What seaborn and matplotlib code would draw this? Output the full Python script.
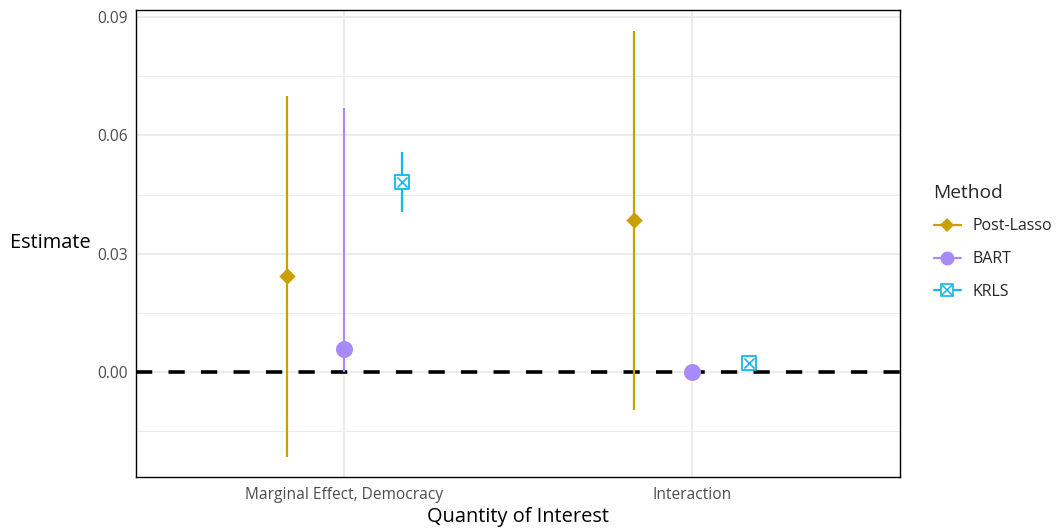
import numpy as np
import pandas as pd
import matplotlib
matplotlib.use("Agg")
import matplotlib.pyplot as plt
from matplotlib.lines import Line2D
import seaborn as sns

# Estimates with interval bounds per quantity and method
quantities = ["Marginal Effect, Democracy", "Interaction"]
methods = ["Post-Lasso", "BART", "KRLS"]
estimate = [0.0244, 0.0058, 0.0482, 0.0385, 0.0000, 0.0023]
lower = [-0.0216, 0.0000, 0.0406, -0.0096, 0.0000, 0.0017]
upper = [0.0700, 0.0670, 0.0558, 0.0865, 0.0000, 0.0029]
yticks = [0.00, 0.03, 0.06, 0.09]

colors = {"Post-Lasso": "#C9A000", "BART": "#A88BFA", "KRLS": "#12B8E8"}

df = pd.DataFrame({
    "quantity": np.repeat(quantities, len(methods)),
    "method": methods * len(quantities),
    "estimate": estimate,
    "lower": lower,
    "upper": upper,
})
dodge = 0.166
df["xpos"] = df["quantity"].map({q: i for i, q in enumerate(quantities)}) + \
    df["method"].map({m: (j - 1) * dodge for j, m in enumerate(methods)})

sns.set_theme(style="whitegrid")
plt.rcParams["font.family"] = ["Open Sans", "DejaVu Sans"]

fig = plt.figure(figsize=(10.59, 5.29), dpi=100)
ax = fig.add_axes([0.1284, 0.0983, 0.7215, 0.8827])

# zero reference line
ax.axhline(0, color="black", lw=2.6, ls=(0, (4.5, 4.5)), zorder=2)

for m in methods:
    sub = df[df["method"] == m]
    ax.vlines(sub["xpos"], sub["lower"], sub["upper"], color=colors[m], lw=1.6, zorder=3)

marker_map = {"Post-Lasso": "D", "BART": "o", "KRLS": "s"}
size_map = {"Post-Lasso": 70, "BART": 150, "KRLS": 95}
for m in methods:
    sub = df[df["method"] == m]
    if m == "KRLS":
        sns.scatterplot(data=sub, x="xpos", y="estimate", ax=ax, marker="s",
                        s=size_map[m], facecolor="white", edgecolor=colors[m],
                        linewidth=1.3, zorder=4, legend=False)
        sns.scatterplot(data=sub, x="xpos", y="estimate", ax=ax, marker="x",
                        s=size_map[m] * 0.55, color=colors[m],
                        linewidth=1.2, zorder=5, legend=False)
    else:
        sns.scatterplot(data=sub, x="xpos", y="estimate", ax=ax,
                        marker=marker_map[m], s=size_map[m], color=colors[m],
                        edgecolor=colors[m], linewidth=0, zorder=4, legend=False)

ax.set_xlim(-0.6, 1.6)
ax.set_ylim(-0.0266, 0.0918)
ax.set_xticks(range(len(quantities)))
ax.set_xticklabels(quantities)
ax.set_yticks(yticks)
ax.set_yticklabels([f"{v:.2f}" for v in yticks])
ax.set_yticks([-0.015, 0.015, 0.045, 0.075], minor=True)

ax.grid(which="major", color="#EBEBEB", lw=1.3)
ax.grid(which="minor", axis="y", color="#EBEBEB", lw=0.7)
ax.set_facecolor("white")
for s in ax.spines.values():
    s.set_visible(True)
    s.set_color("black")
    s.set_linewidth(1.0)

ax.tick_params(axis="both", which="both", length=0, labelsize=11.2,
               labelcolor="#4D4D4D")
ax.tick_params(axis="x", pad=7)
ax.tick_params(axis="y", pad=6)
ax.set_xlabel("Quantity of Interest", fontsize=14.4, color="black", labelpad=3)
ax.set_ylabel("Estimate", fontsize=14.4, color="black", rotation=0,
              ha="right", va="center")
ax.yaxis.set_label_coords(-0.059, 0.501)

# legend with line + marker keys
handles = [
    Line2D([0], [0], color=colors["Post-Lasso"], lw=1.6, marker="D",
           markersize=7, markeredgewidth=0),
    Line2D([0], [0], color=colors["BART"], lw=1.6, marker="o",
           markersize=10, markeredgewidth=0),
    (Line2D([0], [0], color=colors["KRLS"], lw=1.6, marker="s", markersize=8.5,
            markerfacecolor="white", markeredgecolor=colors["KRLS"], markeredgewidth=1.2),
     Line2D([0], [0], color=colors["KRLS"], lw=0, marker="x", markersize=6.5,
            markeredgewidth=1.1)),
]
leg = fig.legend(handles, methods, title="Method", loc="upper left",
                 bbox_to_anchor=(0.868, 0.680), frameon=False, fontsize=11.5,
                 title_fontsize=13.8, handlelength=1.7, labelspacing=1.05,
                 handletextpad=0.75, alignment="left")

fig.savefig("out.png", dpi=100)
